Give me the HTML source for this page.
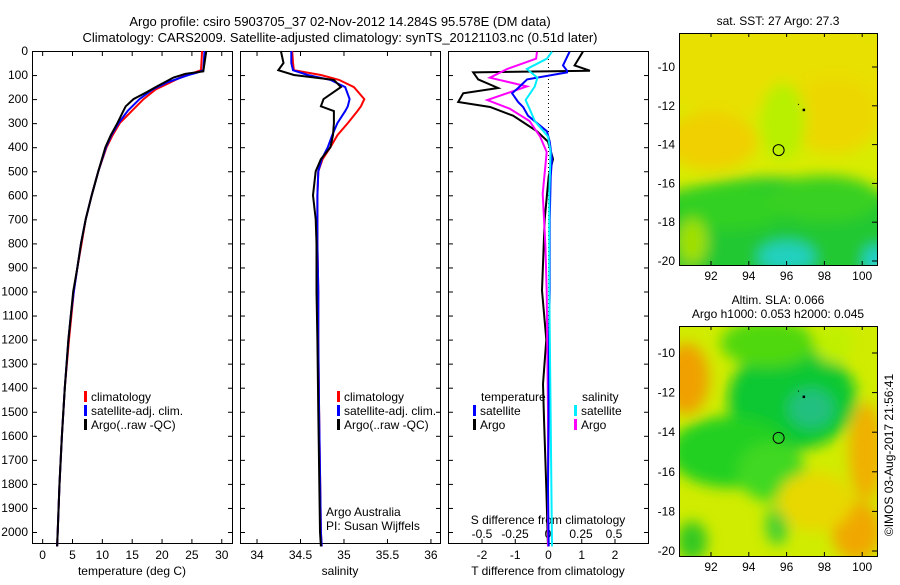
<!DOCTYPE html>
<html><head><meta charset="utf-8"><style>
body{margin:0;background:#fff;width:900px;height:580px;overflow:hidden;font-family:"Liberation Sans",sans-serif}
svg text{font-family:"Liberation Sans",sans-serif;font-size:12px;fill:#000}
</style></head><body>
<svg id="c" width="900" height="580">
<defs>
<filter id="bl" x="-20%" y="-20%" width="140%" height="140%"><feGaussianBlur stdDeviation="7"/></filter>
<clipPath id="cm1"><rect x="679" y="33" width="198" height="232"/></clipPath>
<clipPath id="cm2"><rect x="679" y="326" width="198" height="230"/></clipPath>
</defs>
<text x="340" y="26" text-anchor="middle" style="font-size:13px">Argo profile: csiro 5903705_37 02-Nov-2012 14.284S 95.578E (DM data)</text>
<text x="340" y="42" text-anchor="middle" style="font-size:13px">Climatology: CARS2009. Satellite-adjusted climatology: synTS_20121103.nc (0.51d later)</text>
<g id="maps"></g>
<g id="plots"></g>
<text transform="translate(893,455) rotate(-90)" text-anchor="middle">©IMOS 03-Aug-2017 21:56:41</text>
</svg>
<script>
// ---------- data ----------
const depthT=[0,80,90,100,130,160,200,250,300,350,400,500,600,700,800,900,1000,1100,1200,1400,1600,1800,2000,2060];
const tempClim=[26.8,26.6,25.5,24,21.5,19,17,15,13,11.8,10.8,9.4,8.3,7.3,6.6,5.9,5.3,4.9,4.5,3.8,3.3,2.9,2.6,2.5];
const tempSat=[27.2,27,26,24.5,21,18.5,16.3,14.3,12.8,11.6,10.7,9.4,8.3,7.3,6.5,5.9,5.3,4.8,4.4,3.8,3.3,2.9,2.6,2.5];
const depthArgo=[0,85,95,110,150,170,200,230,250,300,350,400,500,600,700,800,900,1000,1100,1200,1400,1600,1800,2000,2060];
const tempArgo=[27.5,27,24,22,19,17.6,15.3,14,13.6,12.6,11.5,10.6,9.4,8.3,7.3,6.5,5.9,5.2,4.8,4.4,3.8,3.3,2.9,2.6,2.5];
const depthS=[0,50,80,100,120,150,200,230,250,300,350,400,450,500,600,700,800,1000,1200,1500,2000,2060];
const salClim=[34.41,34.42,34.43,34.74,34.95,35.12,35.24,35.2,35.16,35.05,34.93,34.85,34.76,34.71,34.7,34.7,34.7,34.71,34.71,34.72,34.74,34.75];
const salSat=[34.4,34.4,34.42,34.59,34.85,35.02,35.07,35.05,35.02,34.93,34.87,34.82,34.75,34.71,34.7,34.7,34.7,34.71,34.71,34.72,34.74,34.75];
const salArgo=[34.28,34.31,34.25,34.43,34.89,34.97,34.77,34.74,34.89,34.89,34.88,34.85,34.74,34.68,34.65,34.68,34.69,34.69,34.7,34.71,34.73,34.74];
const depthD=[3,60,82,89,118,154,176,212,233,269,334,377,449,521,700,996,1200,1385,1529,1817,2060];
const dTArgo=[1.05,0.8,1.26,-2.25,-2.1,-1.5,-2.55,-2.7,-1.74,-1.05,-0.33,0,0.15,0.02,-0.1,-0.18,-0.05,-0.15,-0.12,-0.05,0];
const dTSat=[0.65,0.45,0.57,0.57,-0.63,-0.9,-1.08,-0.9,-0.75,-0.6,-0.03,0.05,0.12,0.08,0.05,0.05,0.03,0.02,0.02,0,0.02];
const depthDS=[3,32,75,111,147,204,240,291,356,420,593,809,1000,1500,2060];
const dSArgo=[-0.083,-0.09,-0.31,-0.44,-0.16,-0.46,-0.29,-0.14,-0.06,-0.01,-0.04,-0.02,-0.01,0,0];
const dSSat=[0.03,-0.008,-0.16,-0.08,-0.1,-0.17,-0.14,-0.1,0,0.02,0.01,0.01,0.01,0.02,0.03];
const depthTicks=[0,100,200,300,400,500,600,700,800,900,1000,1100,1200,1300,1400,1500,1600,1700,1800,1900,2000];
const tTicks=[0,5,10,15,20,25,30];
const sTicks=[34,34.5,35,35.5,36];
const dTTicks=[-2,-1,0,1,2];
const dSTicks=[-0.5,-0.25,0,0.25,0.5];
const dSLabels=['-0.5','-0.25','0','0.25','0.5'];
const latTicks=[-10,-12,-14,-16,-18,-20];
const lonTicks=[92,94,96,98,100];
const argoPos=[95.578,-14.284];

// ---------- helpers ----------
const NS='http://www.w3.org/2000/svg';
const P=document.getElementById('plots'), M=document.getElementById('maps');
function el(tag,attrs,parent,txt){const e=document.createElementNS(NS,tag);for(const k in attrs)e.setAttribute(k,attrs[k]);if(txt!==undefined)e.textContent=txt;parent.appendChild(e);return e;}
const top0=51, bot=543;
const yD=d=>top0+d*0.2405;
const panels=[{x0:32,x1:232,vmin:-1.7,vmax:31.8},{x0:240,x1:440,vmin:33.81,vmax:36.11},{x0:448,x1:648,vmin:-3.0075,vmax:3.0075}];
const xT=v=>32+(v-panels[0].vmin)/(panels[0].vmax-panels[0].vmin)*200;
const xS=v=>240+(v-panels[1].vmin)/(panels[1].vmax-panels[1].vmin)*200;
const xDT=v=>548+v*33.25;
const xDS=v=>548+v*132;
function line(xs,ds,fx,color,name){
  const pts=xs.map((v,i)=>fx(v).toFixed(1)+','+yD(ds[i]).toFixed(1)).join(' ');
  const l=el('polyline',{points:pts,fill:'none',stroke:color,'stroke-width':2},P);
  
  
}
function frame(i,name){
  const p=panels[i];
  const r=el('rect',{x:p.x0+.5,y:top0+.5,width:p.x1-p.x0,height:bot-top0,fill:'none',stroke:'#000'},P);
  
  
  depthTicks.forEach(d=>{const y=yD(d)+.5;
    el('line',{x1:p.x0,x2:p.x0+5,y1:y,y2:y,stroke:'#000'},P);
    el('line',{x1:p.x1-4,x2:p.x1+1,y1:y,y2:y,stroke:'#000'},P);});
}
function xticks(ticks,labels,fx,y,name,tickTop){
  ticks.forEach((v,i)=>{const x=fx(v)+.5;
    el('line',{x1:x,x2:x,y1:bot-4,y2:bot+1,stroke:'#000'},P);
    if(tickTop) el('line',{x1:x,x2:x,y1:top0,y2:top0+5,stroke:'#000'},P);
    const t=el('text',{x:x,y:y,'text-anchor':'middle'},P,labels[i]);
    
    });
}
function legend(x,y,color,label,name){
  el('rect',{x:x,y:y-10,width:3,height:11,fill:color},P);
  const t=el('text',{x:x+7,y:y},P,label);
  
  
}
// ---------- panel 1 ----------
frame(0,'temperature-panel');
depthTicks.forEach(d=>{const t=el('text',{x:28,y:yD(d)+4,'text-anchor':'end'},P,String(d));
  
  });
xticks(tTicks,tTicks.map(String),xT,559,'temperature-tick-label',true);
el('text',{x:132,y:575,'text-anchor':'middle',},P,'temperature (deg C)');
line(tempClim,depthT,xT,'#f00','temp-climatology-line');
line(tempSat,depthT,xT,'#00f','temp-satellite-line');
line(tempArgo,depthArgo,xT,'#000','temp-argo-line');
legend(84,401,'#f00','climatology','legend-climatology');
legend(84,415,'#00f','satellite-adj. clim.','legend-satellite');
legend(84,429,'#000','Argo(..raw -QC)','legend-argo');
// ---------- panel 2 ----------
frame(1,'salinity-panel');
xticks(sTicks,['34','34.5','35','35.5','36'],xS,559,'salinity-tick-label',true);
el('text',{x:340,y:575,'text-anchor':'middle',},P,'salinity');
line(salClim,depthS,xS,'#f00','sal-climatology-line');
line(salSat,depthS,xS,'#00f','sal-satellite-line');
line(salArgo,depthS,xS,'#000','sal-argo-line');
legend(337,401,'#f00','climatology','legend-climatology');
legend(337,415,'#00f','satellite-adj. clim.','legend-satellite');
legend(337,429,'#000','Argo(..raw -QC)','legend-argo');
el('text',{x:326,y:516,},P,'Argo Australia');
el('text',{x:326,y:530,},P,'PI: Susan Wijffels');
// ---------- panel 3 ----------
frame(2,'difference-panel');
el('line',{x1:548.5,x2:548.5,y1:top0,y2:bot,stroke:'#000','stroke-dasharray':'1,3'},P);
xticks(dTTicks,dTTicks.map(String),xDT,559,'t-diff-tick-label',false);
dSTicks.forEach((v,i)=>{const t=el('text',{x:xDS(v),y:538,'text-anchor':'middle'},P,dSLabels[i]);
  
  });
el('text',{x:548,y:524,'text-anchor':'middle',},P,'S difference from climatology');
el('text',{x:548,y:575,'text-anchor':'middle',},P,'T difference from climatology');
line(dTArgo,depthD,xDT,'#000','t-diff-argo-line');
line(dSArgo,depthDS,xDS,'#f0f','s-diff-argo-line');
line(dTSat,depthD,xDT,'#00f','t-diff-satellite-line');
line(dSSat,depthDS,xDS,'#0ef','s-diff-satellite-line');
el('text',{x:481,y:401,},P,'temperature');
legend(473,415,'#00f','satellite','legend-t-satellite');
legend(473,429,'#000','Argo','legend-t-argo');
el('text',{x:582,y:401,},P,'salinity');
legend(574,415,'#0ef','satellite','legend-s-satellite');
legend(574,429,'#f0f','Argo','legend-s-argo');

// ---------- maps ----------
function map(y0,y1,latTopY,latStep,clip,blobs,base,titleLines,name){
  const g=el('g',{'clip-path':'url(#'+clip+')'},M);
  
  
  el('rect',{x:679,y:y0,width:198,height:y1-y0,fill:base},g);
  const lx=lon=>711+(lon-92)*18.9, ly=lat=>latTopY+(-10-lat)*latStep;
  const bg=el('g',{filter:'url(#bl)'},g);
  blobs.forEach(b=>el('ellipse',{cx:lx(b[0]),cy:ly(b[1]),rx:b[2]*18.9,ry:b[3]*latStep,fill:b[4]},bg));
  el('rect',{x:679.5,y:y0+.5,width:198,height:y1-y0,fill:'none',stroke:'#000'},M);
  latTicks.forEach(l=>{const y=ly(l);
    el('line',{x1:872,x2:877,y1:y,y2:y,stroke:'#000'},M);
    const t=el('text',{x:675,y:y+4,'text-anchor':'end'},M,String(l));
    
    });
  lonTicks.forEach(l=>{const x=lx(l);
    el('line',{x1:x,x2:x,y1:y0,y2:y0+4,stroke:'#000'},M);
    el('line',{x1:x,x2:x,y1:y1-4,y2:y1,stroke:'#000'},M);
    const t=el('text',{x:x,y:y1+15,'text-anchor':'middle'},M,String(l));
    
    });
  const c=el('circle',{cx:lx(argoPos[0]),cy:ly(argoPos[1]),r:5.5,fill:'none',stroke:'#000'},M);
  
  
  el('rect',{x:lx(96.9)-1,y:ly(-12.2)-1,width:2.5,height:2.5,fill:'#000'},M);
  el('rect',{x:lx(96.6),y:ly(-11.9),width:1,height:1,fill:'#000'},M);
  titleLines.forEach((s,i)=>{const t=el('text',{x:778,y:y0-22+14*i+(titleLines.length==1?14:0),'text-anchor':'middle'},M,s);
    
    });
}
map(33,265,67,19.4,'cm1',[
  [95,-10,8,2.5,'#e8e000'],[92,-13.8,2.5,1.5,'#f0d000'],[98.5,-12.5,2.5,2,'#ecd800'],[95.8,-12.8,1.2,2,'#b8f000'],
  [95.5,-18.5,8,2.8,'#20c830'],[93,-17.2,3,1.2,'#30d020'],[98,-16.8,3,1.2,'#38d020'],[96,-19.8,1.5,0.8,'#20d0c0'],[100.7,-20,0.6,0.8,'#20d0d0'],[91,-19,0.8,1.2,'#a0e000']
],'#d8ec00',['sat. SST: 27 Argo: 27.3'],'sst-map');
map(326,556,353,19.8,'cm2',[
  [90.7,-11.3,1.2,1.8,'#f0a000'],[96.3,-12.3,3.4,2.6,'#10c830'],[97.3,-12.8,1.2,1,'#20c080'],[93,-15,3.2,1.8,'#20d020'],[95.2,-16,1.8,1.5,'#40d820'],[95.5,-18.7,0.6,1,'#40d030'],[95,-9.5,2.5,1.2,'#50d810'],
  [100.2,-15,0.9,2.5,'#f0b000'],[99.7,-19,1.3,1.5,'#f0a800'],[97.5,-17.5,2,1.5,'#e8d800'],[91,-19.5,0.8,1,'#30c820'],[98.5,-9.5,1,1,'#c0f000']
],'#d0ec00',['Altim. SLA: 0.066','Argo h1000: 0.053 h2000: 0.045'],'sla-map');
</script>
</body></html>
